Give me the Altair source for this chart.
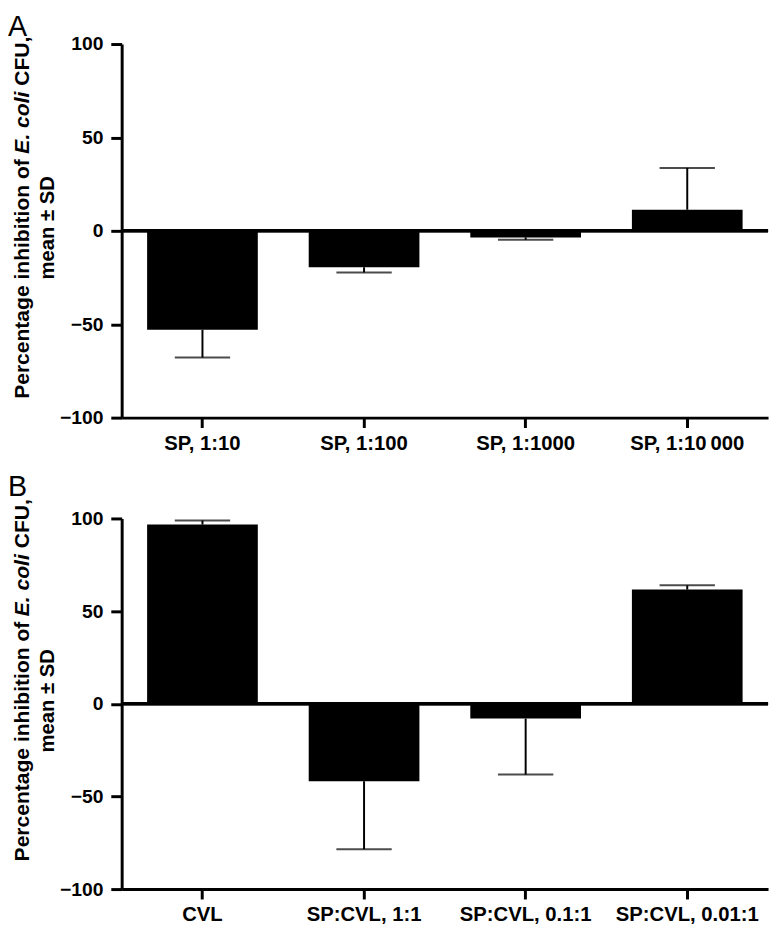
import altair as alt
import pandas as pd

# ---- data ----
cats_a = ["SP, 1:10", "SP, 1:100", "SP, 1:1000", "SP, 1:10\u2009000"]
means_a = [-53.0, -19.5, -3.5, 11.3]
sd_a = [14.8, 2.8, 1.3, 22.4]

cats_b = ["CVL", "SP:CVL, 1:1", "SP:CVL, 0.1:1", "SP:CVL, 0.01:1"]
means_b = [96.7, -41.8, -8.0, 61.6]
sd_b = [2.2, 36.7, 30.2, 2.3]

y_ticks = [-100, -50, 0, 50, 100]

FONT = "Liberation Sans"
W = 654


def panel(cats, means, sds, letter, h, title_bottom, letter_y):
    df = pd.DataFrame({"cat": cats, "mean": means, "sd": sds})
    df["end"] = [m + (s if m >= 0 else -s) for m, s in zip(means, sds)]

    xenc = alt.X(
        "cat:N",
        sort=cats,
        title=None,
        scale=alt.Scale(paddingInner=0.315, paddingOuter=0.1575),
        axis=alt.Axis(labelAngle=0),
    )
    yenc = alt.Y(
        "mean:Q",
        title=None,
        scale=alt.Scale(domain=[-100, 100], nice=False, zero=False),
        axis=alt.Axis(values=y_ticks, format="d"),
    )
    base = alt.Chart(df)
    bars = base.mark_bar(color="black").encode(x=xenc, y=yenc, y2=alt.datum(0))
    stems = base.mark_rule(color="black", strokeWidth=2).encode(
        x=alt.X("cat:N", sort=cats), y="mean:Q", y2="end:Q"
    )
    caps = base.mark_tick(color="black", thickness=2, size=56, orient="horizontal").encode(
        x=alt.X("cat:N", sort=cats), y="end:Q"
    )
    zero = base.mark_rule(color="black", strokeWidth=3).encode(y=alt.datum(0))

    one = pd.DataFrame({"k": [0]})
    fs = 21.3
    # offsets of the three pieces of the first title line (em widths of Arial Bold)
    off2 = 11.649 * fs
    off3 = (11.649 + 2.946 + 0.278) * fs
    common = dict(angle=270, align="left", baseline="alphabetic", font=FONT,
                  fontWeight="bold", fontSize=fs, color="black")
    t1 = alt.Chart(one).mark_text(**common).encode(
        x=alt.value(-94), y=alt.value(title_bottom), text=alt.value("Percentage inhibition of"))
    t2 = alt.Chart(one).mark_text(fontStyle="italic", **common).encode(
        x=alt.value(-94), y=alt.value(title_bottom - off2), text=alt.value("E. coli"))
    t3 = alt.Chart(one).mark_text(**common).encode(
        x=alt.value(-94), y=alt.value(title_bottom - off3), text=alt.value("CFU,"))
    t4 = alt.Chart(one).mark_text(angle=270, align="center", baseline="alphabetic", font=FONT,
                                  fontWeight="bold", fontSize=20.5, color="black").encode(
        x=alt.value(-68), y=alt.value(h / 2 - 3), text=alt.value("mean \u00b1 SD"))
    lab = alt.Chart(one).mark_text(align="left", baseline="top", font=FONT, fontSize=29,
                                   fontWeight="normal", color="black").encode(
        x=alt.value(-115), y=alt.value(letter_y), text=alt.value(letter))

    return alt.layer(bars, stems, zero, caps, t1, t2, t3, t4, lab).properties(width=W, height=h)


pa = panel(cats_a, means_a, sd_a, "A", 378, 359, -31)
pb = panel(cats_b, means_b, sd_b, "B", 375, 347, -46)

chart = (
    alt.vconcat(pa, pb, spacing=19)
    .properties(padding={"left": 0, "top": 0, "right": 2, "bottom": 5})
    .configure_view(strokeWidth=0)
    .configure_axis(
        domainColor="black",
        domainWidth=3,
        tickColor="black",
        tickWidth=3,
        labelColor="black",
        labelFont=FONT,
        labelFontWeight="bold",
        grid=False,
    )
    .configure_axisX(labelFontSize=20.5, tickSize=10, labelPadding=6)
    .configure_axisY(labelFontSize=19.5, tickSize=11, labelPadding=8)
)

chart.save("out.html", embed_options={"renderer": "svg", "actions": False})
